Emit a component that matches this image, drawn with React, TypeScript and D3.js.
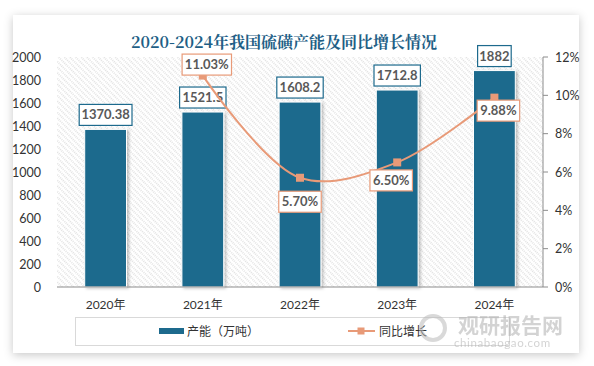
import * as d3 from 'd3'

const years = ['2020年', '2021年', '2022年', '2023年', '2024年']
const capacity = [1370.38, 1521.5, 1608.2, 1712.8, 1882]
const capacityLabels = ['1370.38', '1521.5', '1608.2', '1712.8', '1882']
const growth = [null, 11.03, 5.7, 6.5, 9.88]
const growthLabels = ['', '11.03%', '5.70%', '6.50%', '9.88%']
const leftTicks = [0, 200, 400, 600, 800, 1000, 1200, 1400, 1600, 1800, 2000]
const rightTicks = [0, 2, 4, 6, 8, 10, 12]

const BAR = '#1d6a8d'
const LINE = '#e89a78'
const FONT = 'Lato, "Noto Sans CJK SC", sans-serif'
const CJK = '"Noto Sans CJK SC", sans-serif'

function App() {
    const left = 57
    const right = 543
    const top = 57
    const bottom = 287

    const x = d3.scaleBand().domain(years).range([left, right]).paddingInner(0.57).paddingOuter(0.285)
    const y = d3.scaleLinear().domain([0, 2000]).range([bottom, top])
    const yR = d3.scaleLinear().domain([0, 12]).range([bottom, top])
    const cx = (d) => x(d) + x.bandwidth() / 2

    const pts = growth
        .map((g, i) => ({ g, i }))
        .filter((p) => p.g !== null)
    const line = d3
        .line()
        .x((p) => cx(years[p.i]))
        .y((p) => yR(p.g))
        .curve(d3.curveCatmullRom.alpha(0.5))

    // label offsets relative to marker: above for 2021, below for others
    const lineLabelDy = [0, -11, 24, 18, 13]
    const lineLabelDx = [0, 4, 0, -6, 4]

    return (
        <svg
            width={594}
            height={366}
            style={{ position: 'absolute', left: 0, top: 0, display: 'block' }}
        >
            <defs>
                <filter id="card" x="-10%" y="-10%" width="120%" height="120%">
                    <feDropShadow dx="0" dy="2" stdDeviation="5" floodColor="#000" floodOpacity="0.22" />
                </filter>
                <filter id="barsh" x="-20%" y="-10%" width="140%" height="120%">
                    <feDropShadow dx="2" dy="1" stdDeviation="1.5" floodColor="#000" floodOpacity="0.25" />
                </filter>
                <pattern
                    id="hatch"
                    patternUnits="userSpaceOnUse"
                    width={4}
                    height={4}
                    patternTransform="rotate(-45)"
                >
                    <line x1={1} y1={0} x2={1} y2={4} stroke="#c8c8c8" strokeWidth={1} strokeDasharray="1 1" />
                </pattern>
            </defs>
            <rect width={594} height={366} fill="#fff" />
            <rect x={13} y={15} width={566} height={338} fill="#fff" filter="url(#card)" />

            <text
                x={284}
                y={48}
                textAnchor="middle"
                fontFamily='"Noto Serif CJK SC", "Noto Sans CJK SC", serif'
                fontWeight="bold"
                fontSize={16}
                fill="#1f5f86"
            >
                2020-2024年我国硫磺产能及同比增长情况
            </text>

            <rect x={left} y={top} width={right - left} height={bottom - top} fill="url(#hatch)" />

            {/* left axis labels */}
            {leftTicks.map((t) => (
                <text key={t} x={41} y={y(t) + 4.5} textAnchor="end" fontFamily={FONT} fontSize={12.5} fill="#333">
                    {t}
                </text>
            ))}

            {/* right axis */}
            <line x1={right} x2={right} y1={top} y2={bottom} stroke="#8c8c8c" />
            {rightTicks.map((t) => (
                <g key={t}>
                    <line x1={right} x2={right + 5} y1={yR(t)} y2={yR(t)} stroke="#8c8c8c" />
                    <text x={555} y={yR(t) + 4.5} fontFamily={FONT} fontSize={12.5} fill="#333">
                        {t}%
                    </text>
                </g>
            ))}

            {/* bars */}
            {capacity.map((v, i) => (
                <rect
                    key={i}
                    x={x(years[i])}
                    y={y(v)}
                    width={x.bandwidth()}
                    height={bottom - y(v)}
                    fill={BAR}
                    stroke="#fff"
                    strokeWidth={1}
                    filter="url(#barsh)"
                />
            ))}

            <line x1={left} x2={right} y1={bottom} y2={bottom} stroke="#8c8c8c" />

            {years.map((yr) => (
                <text key={yr} x={cx(yr)} y={309} textAnchor="middle" fontFamily={FONT} fontSize={12} fill="#333">
                    {yr}
                </text>
            ))}

            {/* bar labels */}
            {capacity.map((v, i) => {
                const w = capacityLabels[i].length * 6.4 + 8
                const c = cx(years[i])
                const yb = y(v) - 4
                return (
                    <g key={i}>
                        <rect x={c - w / 2} y={yb - 21} width={w} height={21} fill="#fff" stroke={BAR} strokeWidth={1.2} />
                        <text
                            x={c}
                            y={yb - 6}
                            textAnchor="middle"
                            fontFamily={FONT}
                            fontWeight="bold"
                            fontSize={13}
                            fill="#595959"
                        >
                            {capacityLabels[i]}
                        </text>
                    </g>
                )
            })}

            {/* growth line */}
            <path d={line(pts)} fill="none" stroke={LINE} strokeWidth={2} />
            {pts.map((p) => (
                <rect
                    key={p.i}
                    x={cx(years[p.i]) - 4}
                    y={yR(p.g) - 4}
                    width={8}
                    height={8}
                    fill={LINE}
                />
            ))}
            {pts.map((p) => {
                const lbl = growthLabels[p.i]
                const w = lbl.length * 6.9 + 8
                const c = cx(years[p.i]) + lineLabelDx[p.i]
                const cy = yR(p.g) + lineLabelDy[p.i]
                return (
                    <g key={'l' + p.i}>
                        <rect x={c - w / 2} y={cy - 10.5} width={w} height={21} fill="#fff" stroke={LINE} strokeWidth={1.2} />
                        <text
                            x={c}
                            y={cy + 4.5}
                            textAnchor="middle"
                            fontFamily={FONT}
                            fontWeight="bold"
                            fontSize={13}
                            fill="#595959"
                        >
                            {lbl}
                        </text>
                    </g>
                )
            })}

            {/* legend */}
            <rect x={75.5} y={317.5} width={434} height={28} fill="none" stroke="#d9d9d9" />
            <rect x={159} y={328} width={25} height={6} fill={BAR} />
            <text x={187} y={336} fontFamily={CJK} fontSize={12} fill="#333">
                产能（万吨）
            </text>
            <line x1={348} x2={375} y1={331} y2={331} stroke={LINE} strokeWidth={2} />
            <rect x={357.5} y={327.5} width={7} height={7} fill={LINE} />
            <text x={379} y={336} fontFamily={CJK} fontSize={12} fill="#333">
                同比增长
            </text>

            {/* watermark */}
            <g opacity={0.55}>
                <circle cx={433} cy={328} r={12} fill="none" stroke="#bbb" strokeWidth={4} />
                <text x={458} y={333} fontFamily={CJK} fontWeight="bold" fontSize={21} fill="#b0b0b0">
                    观研报告网
                </text>
                <text x={454} y={347} fontFamily={FONT} fontSize={11.5} fill="#b0b0b0" letterSpacing={0.6}>
                    chinabaogao.com
                </text>
            </g>
        </svg>
    )
}

export default App
